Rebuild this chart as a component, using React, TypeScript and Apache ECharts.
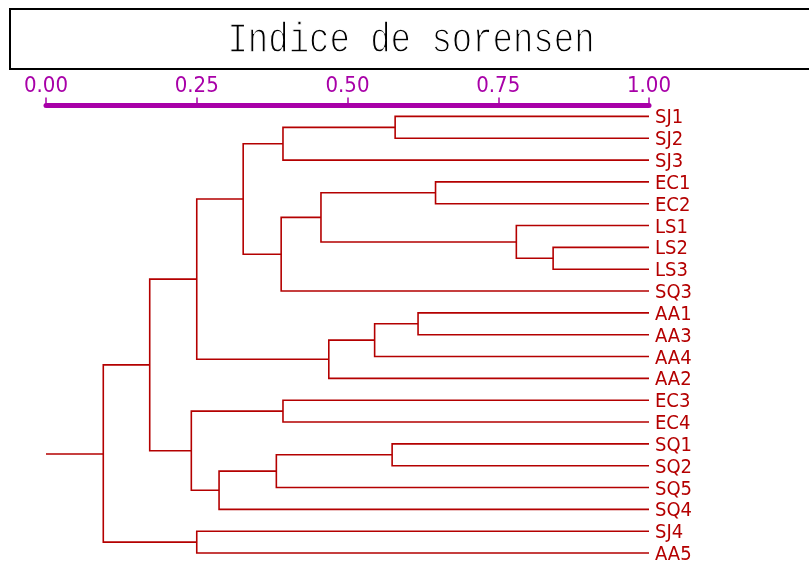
import React, { useEffect, useRef } from "react";
import * as echarts from "echarts";

// Leaves, top to bottom
const leaves = ["SJ1","SJ2","SJ3","EC1","EC2","LS1","LS2","LS3","SQ3","AA1","AA3","AA4","AA2","EC3","EC4","SQ1","SQ2","SQ5","SQ4","SJ4","AA5"];
// Merge table (scipy-linkage style): index < 21 = leaf, index >= 21 = cluster (21 + merge row)
const mergeLeft =   [0, 21, 3, 6, 5, 23, 26, 22, 9, 29, 30, 28, 13, 15, 34, 35, 33, 32, 19, 38];
const mergeRight =  [1, 2, 4, 7, 24, 25, 8, 27, 10, 11, 12, 31, 14, 16, 17, 18, 36, 37, 20, 39];
const mergeHeight = [0.579, 0.393, 0.646, 0.841, 0.780, 0.456, 0.390, 0.327, 0.617, 0.545, 0.469, 0.250, 0.393, 0.574, 0.382, 0.287, 0.241, 0.172, 0.250, 0.095];
const xTicks = [0, 0.25, 0.5, 0.75, 1];
const titleText = "Indice de sorensen";

const PURPLE = "#A800A8";
const RED = "#B40000";
const LABEL_FONT = "'DejaVu Sans Condensed', 'Liberation Sans Narrow', sans-serif";
const TITLE_FONT = "34px 'Liberation Mono', 'DejaVu Sans Mono', monospace";

export default function App() {
  const ref = useRef<HTMLDivElement>(null);
  useEffect(() => {
    if (!ref.current) return;
    const chart = echarts.init(ref.current, undefined, { renderer: "svg" });
    const n = leaves.length;
    const ys: number[] = leaves.map((_, i) => i);
    const hs: number[] = leaves.map(() => 1);
    const rows: number[][] = [];
    mergeHeight.forEach((h, k) => {
      const l = mergeLeft[k];
      const r = mergeRight[k];
      ys[n + k] = (ys[l] + ys[r]) / 2;
      hs[n + k] = h;
      rows.push([h, ys[l], ys[r], hs[l], hs[r]]);
    });
    const rootY = ys[ys.length - 1];
    const rootH = hs[hs.length - 1];
    const stem = [[0, rootY, rootH, rootY]];

    chart.setOption({
      animation: false,
      grid: { left: 46, right: 160, top: 105.5, height: 21 * 21.83 },
      xAxis: {
        type: "value",
        position: "top",
        min: 0,
        max: 1,
        interval: 0.25,
        splitLine: { show: false },
        axisLine: { show: true, onZero: false, lineStyle: { color: PURPLE, width: 5 } },
        axisTick: { show: true, length: 8, lineStyle: { color: PURPLE, width: 1.5 } },
        axisLabel: {
          color: PURPLE,
          margin: 10,
          fontSize: 22,
          fontFamily: LABEL_FONT,
          formatter: (v: number) => v.toFixed(2),
          customValues: xTicks,
        },
      },
      yAxis: [
        { type: "value", min: -0.5, max: 20.5, inverse: true, show: false },
        {
          type: "category",
          data: leaves,
          inverse: true,
          position: "right",
          boundaryGap: true,
          axisLine: { show: false, onZero: false },
          axisTick: { show: false },
          axisLabel: {
            color: RED,
            margin: 6,
            interval: 0,
            fontSize: 20,
            fontFamily: LABEL_FONT,
          },
        },
      ],
      series: [
        {
          type: "custom",
          xAxisIndex: 0,
          yAxisIndex: 0,
          data: rows,
          silent: true,
          renderItem: (params: any, api: any) => {
            const h = api.value(0), yl = api.value(1), yr = api.value(2), hl = api.value(3), hr = api.value(4);
            const pts = [api.coord([hl, yl]), api.coord([h, yl]), api.coord([h, yr]), api.coord([hr, yr])];
            return { type: "polyline", shape: { points: pts }, style: { stroke: RED, lineWidth: 1.6, fill: "none" } };
          },
        },
        {
          type: "lines",
          coordinateSystem: "cartesian2d",
          xAxisIndex: 0,
          yAxisIndex: 0,
          silent: true,
          data: stem.map((s) => ({ coords: [[s[0], s[1]], [s[2], s[3]]] })),
          lineStyle: { color: RED, width: 1.6, opacity: 1 },
        },
      ],
      graphic: [
        { type: "rect", shape: { x: 10, y: 9, width: 810, height: 60 }, style: { fill: "#fff", stroke: "#000", lineWidth: 2 } },
        {
          type: "text",
          x: 411,
          y: 41,
          scaleY: 1.25,
          style: { text: titleText, fill: "#000", font: TITLE_FONT, textAlign: "center", textVerticalAlign: "middle" },
        },
        {
          type: "text",
          x: 411,
          y: 41,
          scaleY: 1.25,
          silent: true,
          style: { text: titleText, fill: "rgba(0,0,0,0)", stroke: "#fff", lineWidth: 1.1, font: TITLE_FONT, textAlign: "center", textVerticalAlign: "middle" },
        },
      ],
    });
    return () => chart.dispose();
  }, []);
  return <div ref={ref} style={{ position: "fixed", left: 0, top: 0, width: 809, height: 567 }} />;
}
